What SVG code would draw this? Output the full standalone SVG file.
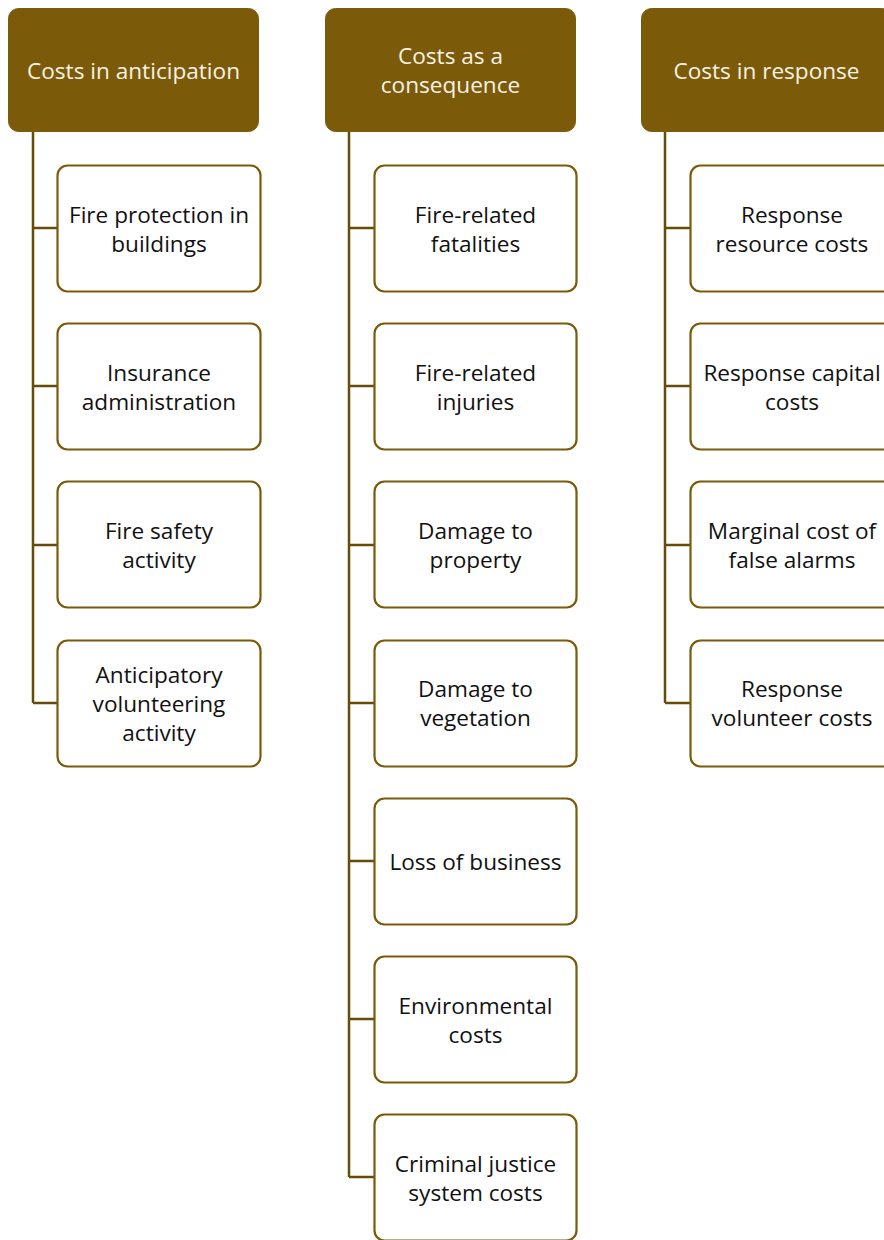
<svg xmlns="http://www.w3.org/2000/svg" width="884" height="1240" viewBox="0 0 884 1240">
<style>
.hdr{fill:#7B5B0A;stroke:#7B5B0A;stroke-width:1}
.box{fill:#FFFFFF;stroke:#7B5B0A;stroke-width:2.2}
.ht{font-family:"Open Sans","Noto Sans",sans-serif;font-size:22.6px;fill:#F7F2E4;text-anchor:middle}
.bt{font-family:"Open Sans","Noto Sans",sans-serif;font-size:22.6px;fill:#111111;text-anchor:middle}
.conn{fill:none;stroke:#664C08;stroke-width:2.5}
</style>
<rect width="884" height="1240" fill="#FFFFFF"/>
<g id="connectors">
<path class="conn" d="M33,132 V703 M33,228 H57 M33,386 H57 M33,545 H57 M33,703 H57"/>
<path class="conn" d="M349,132 V1177 M349,228 H374 M349,386 H374 M349,545 H374 M349,703 H374 M349,861 H374 M349,1019 H374 M349,1177 H374"/>
<path class="conn" d="M665,132 V703 M665,228 H690 M665,386 H690 M665,545 H690 M665,703 H690"/>
</g>
<g id="h1"><rect class="hdr" x="8.5" y="8.5" width="250" height="123" rx="10"/><text class="ht" x="133.5" y="79">Costs in anticipation</text></g>
<g id="h2"><rect class="hdr" x="325.5" y="8.5" width="250" height="123" rx="10"/><text class="ht" x="450.5" y="64">Costs as a</text><text class="ht" x="450.5" y="93">consequence</text></g>
<g id="h3"><rect class="hdr" x="641.5" y="8.5" width="250" height="123" rx="10"/><text class="ht" x="766.5" y="79">Costs in response</text></g>

<g id="a1"><rect class="box" x="57.5" y="165.5" width="203" height="126" rx="10"/><text class="bt" x="159" y="223">Fire protection in</text><text class="bt" x="159" y="252">buildings</text></g>
<g id="a2"><rect class="box" x="57.5" y="323.5" width="203" height="126" rx="10"/><text class="bt" x="159" y="381">Insurance</text><text class="bt" x="159" y="410">administration</text></g>
<g id="a3"><rect class="box" x="57.5" y="481.5" width="203" height="126" rx="10"/><text class="bt" x="159" y="539">Fire safety</text><text class="bt" x="159" y="568">activity</text></g>
<g id="a4"><rect class="box" x="57.5" y="640.5" width="203" height="126" rx="10"/><text class="bt" x="159" y="683">Anticipatory</text><text class="bt" x="159" y="712">volunteering</text><text class="bt" x="159" y="741">activity</text></g>

<g id="b1"><rect class="box" x="374.5" y="165.5" width="202" height="126" rx="10"/><text class="bt" x="475.5" y="223">Fire-related</text><text class="bt" x="475.5" y="252">fatalities</text></g>
<g id="b2"><rect class="box" x="374.5" y="323.5" width="202" height="126" rx="10"/><text class="bt" x="475.5" y="381">Fire-related</text><text class="bt" x="475.5" y="410">injuries</text></g>
<g id="b3"><rect class="box" x="374.5" y="481.5" width="202" height="126" rx="10"/><text class="bt" x="475.5" y="539">Damage to</text><text class="bt" x="475.5" y="568">property</text></g>
<g id="b4"><rect class="box" x="374.5" y="640.5" width="202" height="126" rx="10"/><text class="bt" x="475.5" y="697">Damage to</text><text class="bt" x="475.5" y="726">vegetation</text></g>
<g id="b5"><rect class="box" x="374.5" y="798.5" width="202" height="126" rx="10"/><text class="bt" x="475.5" y="870">Loss of business</text></g>
<g id="b6"><rect class="box" x="374.5" y="956.5" width="202" height="126" rx="10"/><text class="bt" x="475.5" y="1014">Environmental</text><text class="bt" x="475.5" y="1043">costs</text></g>
<g id="b7"><rect class="box" x="374.5" y="1114.5" width="202" height="126" rx="10"/><text class="bt" x="475.5" y="1172">Criminal justice</text><text class="bt" x="475.5" y="1201">system costs</text></g>

<g id="c1"><rect class="box" x="690.5" y="165.5" width="203" height="126" rx="10"/><text class="bt" x="792" y="223">Response</text><text class="bt" x="792" y="252">resource costs</text></g>
<g id="c2"><rect class="box" x="690.5" y="323.5" width="203" height="126" rx="10"/><text class="bt" x="792" y="381">Response capital</text><text class="bt" x="792" y="410">costs</text></g>
<g id="c3"><rect class="box" x="690.5" y="481.5" width="203" height="126" rx="10"/><text class="bt" x="792" y="539">Marginal cost of</text><text class="bt" x="792" y="568">false alarms</text></g>
<g id="c4"><rect class="box" x="690.5" y="640.5" width="203" height="126" rx="10"/><text class="bt" x="792" y="697">Response</text><text class="bt" x="792" y="726">volunteer costs</text></g>
</svg>
